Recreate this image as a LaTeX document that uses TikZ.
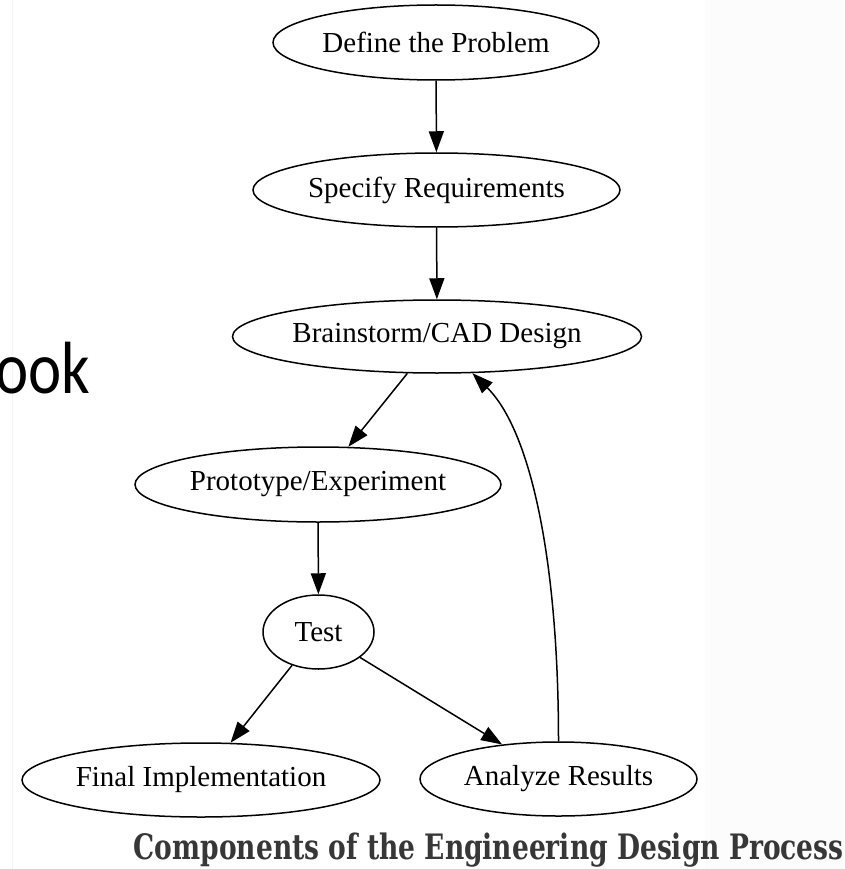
\documentclass[tikz,border=0pt]{standalone}
\usepackage{fontspec}
\usepackage{graphicx}
\setmainfont{Liberation Serif}
\newfontfamily\slidefont{Carlito}
\newfontfamily\capfont{DejaVu Serif}
\usetikzlibrary{shapes.geometric,arrows.meta}
\definecolor{capgray}{RGB}{55,55,55}

\begin{document}
\begin{tikzpicture}[x=1pt,y=1pt,line width=1.5pt,
  step node/.style={ellipse,draw,inner sep=0pt,font=\fontsize{29}{33}\selectfont},
  flow/.style={-{Triangle[length=21pt,width=15pt]}}]

\useasboundingbox (0,0) rectangle (844,-869);
\fill[black!1] (705,0) rectangle (844,-869);
\draw[black!4,line width=1pt] (12,0) -- (12,-869);

% leftover slide text, clipped at the edge
\node[anchor=base east,inner sep=0pt] (slide) at (91,-393)
  {\slidefont\fontsize{74}{80}\selectfont\scalebox{0.85}[1]{ook}};

% process steps
\node[step node,minimum width=326pt,minimum height=75pt] (def)   at (436,-42.5) {Define the Problem};
\node[step node,minimum width=367pt,minimum height=74pt] (spec)  at (436.5,-190) {Specify Requirements};
\node[step node,minimum width=404pt,minimum height=73pt] (brain) at (437,-336.5) {Brainstorm/CAD Design};
\node[step node,minimum width=366pt,minimum height=75pt] (proto) at (318,-484.5) {Prototype/Experiment};
\node[step node,minimum width=111pt,minimum height=74pt] (test)  at (318.5,-632) {Test};
\node[step node,minimum width=358pt,minimum height=74pt] (final) at (201,-780) {Final Implementation};
\node[step node,minimum width=277pt,minimum height=74pt] (ana)   at (558.5,-779) {Analyze Results};

% connectors
\draw[flow] (def) -- (spec);
\draw[flow] (spec) -- (brain);
\draw[flow] (brain) -- (proto);
\draw[flow] (proto) -- (test);
\draw[flow] (test) -- (final);
\draw[flow] (test) -- (ana);
\draw[flow] (ana.north) .. controls +(0,182) and +(58,-57) .. (brain.-46);

% caption
\node[anchor=base west,inner sep=0pt,text=capgray] (caption) at (133,-859)
  {\resizebox{710pt}{\height}{\capfont\bfseries\fontsize{35}{40}\selectfont Components of the Engineering Design Process}};

\end{tikzpicture}
\end{document}
